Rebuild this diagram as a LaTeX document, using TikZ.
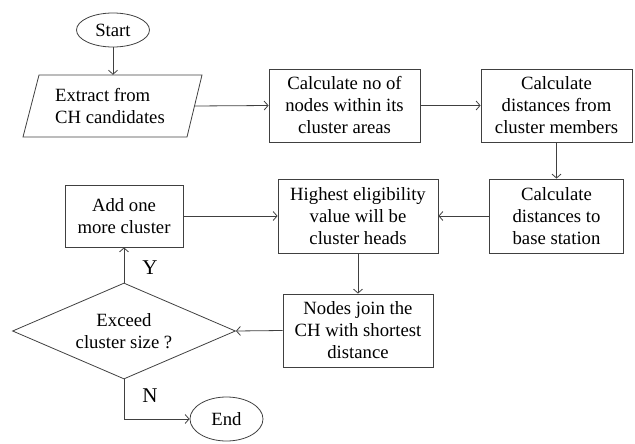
\documentclass[tikz,border=0pt]{standalone}
\usepackage{fontspec}
\setmainfont{Liberation Serif}
\usetikzlibrary{shapes.geometric,arrows.meta}
\begin{document}
\begin{tikzpicture}[x=1pt,y=-1pt,
  every node/.style={font=\fontsize{18.7}{22}\selectfont, text=black},
  box/.style={draw=black!75, line width=0.8pt, align=center, inner sep=0pt},
  term/.style={draw=black!75, line width=0.8pt, ellipse, inner sep=0pt},
  conn/.style={draw=black!75, line width=0.8pt, -{Straight Barb[length=4pt,width=9pt]}},
  lbl/.style={font=\fontsize{21}{24}\selectfont}
]
\useasboundingbox (0,0) rectangle (635,444);
\node[term, minimum width=73pt, minimum height=34pt] (start) at (113,30) {Start};
\node[align=left, inner sep=0pt, minimum width=164pt, minimum height=62pt] (ext) at (110,106) {Extract from\\CH candidates};
\draw[draw=black!75, line width=0.8pt] (39,75) -- (202,75) -- (187,137) -- (23,137) -- cycle;
\node[box, minimum width=151pt, minimum height=73pt] (calcno) at (344.5,105.5) {Calculate no of\\nodes within its\\cluster areas};
\node[box, minimum width=151pt, minimum height=73pt] (calcfrom) at (556.5,105.5) {Calculate\\distances from\\cluster members};
\node[box, minimum width=134pt, minimum height=74pt] (calcto) at (556.5,216) {Calculate\\distances to\\base station};
\node[box, minimum width=160pt, minimum height=74pt] (high) at (358,216) {Highest eligibility\\value will be\\cluster heads};
\node[box, minimum width=118pt, minimum height=62pt] (add) at (124,216) {Add one\\more cluster};
\node[box, minimum width=150pt, minimum height=73pt] (join) at (358,330.5) {Nodes join the\\CH with shortest\\distance};
\node[draw=black!75, line width=0.8pt, diamond, aspect=2.32, inner sep=0pt, minimum width=223pt, minimum height=96pt, align=center] (dec) at (124,331) {Exceed\\cluster size ?};
\node[term, minimum width=73pt, minimum height=44pt] (end) at (226.5,419) {End};
\coordinate (ext east) at (195,106);
\draw[conn] (start) -- (start.south |- ext.north);
\draw[conn] (ext east) -- (calcno.west);
\draw[conn] (calcno) -- (calcfrom);
\draw[conn] (calcfrom.south) -- (calcto.north);
\draw[conn] (calcto) -- (high);
\draw[conn] (add) -- (high);
\draw[conn] (high) -- (join);
\draw[conn] (join.west) -- (dec.east);
\draw[conn] (dec.north) -- (add.south);
\draw[conn] (dec.south) |- (end.west);
\node[lbl] (ylbl) at (150,268) {Y};
\node[lbl] (nlbl) at (150,396) {N};
\end{tikzpicture}
\end{document}
